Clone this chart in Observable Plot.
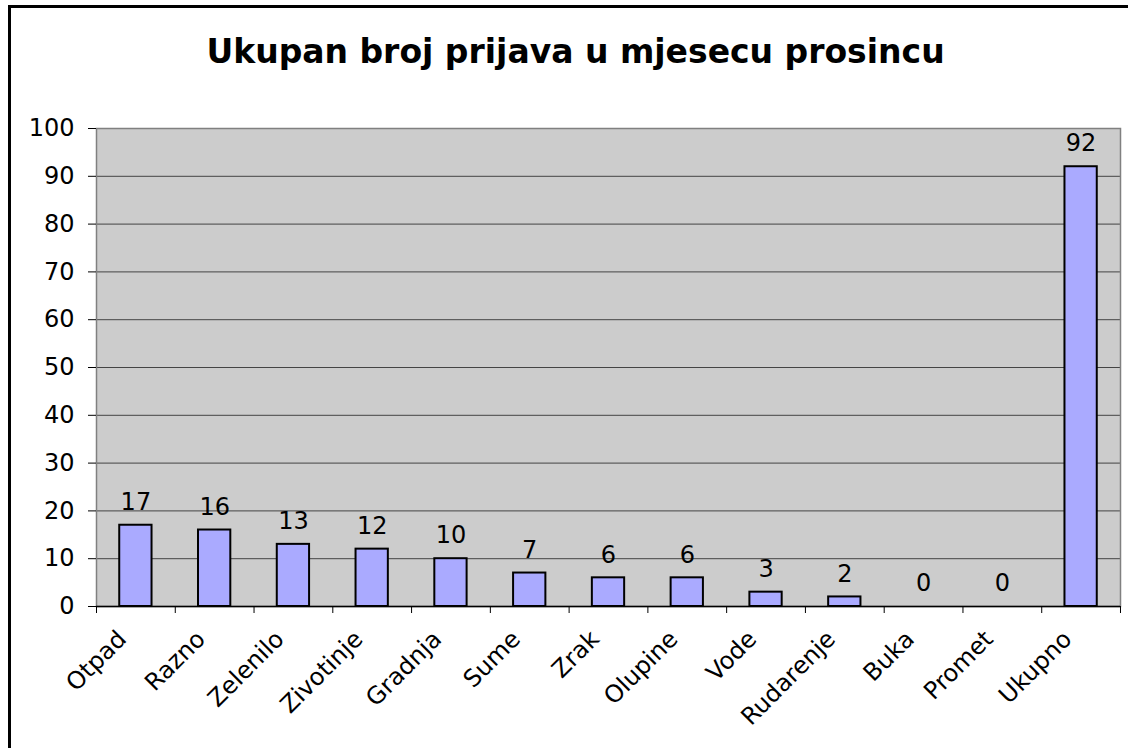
<!DOCTYPE html>
<html>
<head>
<meta charset="utf-8">
<script src="https://cdn.jsdelivr.net/npm/d3@7"></script>
<script src="https://cdn.jsdelivr.net/npm/@observablehq/plot@0.6"></script>
<style>
  html, body { margin: 0; padding: 0; background: #fff; }
  #wrap { position: relative; width: 1128px; height: 748px; overflow: hidden; }
  #border { position: absolute; left: 8px; top: 5px; width: 1200px; height: 800px; border-left: 3px solid #000; border-top: 3px solid #000; box-sizing: border-box; }
  #chart { position: absolute; left: 0; top: 0; }
</style>
</head>
<body>
<div id="wrap">
  <div id="border"></div>
  <div id="chart"></div>
</div>
<script>
const title = "Ukupan broj prijava u mjesecu prosincu";
const categories = ["Otpad","Razno","Zelenilo","Zivotinje","Gradnja","Sume","Zrak","Olupine","Vode","Rudarenje","Buka","Promet","Ukupno"];
const values = [17,16,13,12,10,7,6,6,3,2,0,0,92];
const yTicks = [0,10,20,30,40,50,60,70,80,90,100];

const data = categories.map((c, i) => ({category: c, value: values[i]}));

const W = 1128, H = 748;
const mL = 96, mR = 8, mT = 128, mB = 142;
const step = (W - mL - mR) / categories.length;

const font = "'DejaVu Sans', Verdana, sans-serif";

const chart = Plot.plot({
  width: W,
  height: H,
  marginLeft: mL,
  marginRight: mR,
  marginTop: mT,
  marginBottom: mB,
  style: {fontFamily: font, fontSize: "24px", color: "#000", background: "transparent", overflow: "visible"},
  x: {domain: categories, paddingInner: 0.59, paddingOuter: 0.295, align: 0.5, round: false, label: null, axis: null},
  y: {domain: [0, 100], ticks: yTicks, label: null},
  marks: [
    Plot.frame({fill: "#cccccc", stroke: "none"}),
    Plot.gridY(yTicks.filter(d => d > 0 && d < 100), {stroke: "#444", strokeOpacity: 1, strokeWidth: 1}),
    Plot.frame({stroke: "#808080", strokeWidth: 1.5}),
    Plot.barY(data.filter(d => d.value > 0), {x: "category", y: "value", fill: "#aaaaff", stroke: "#000", strokeWidth: 2}),
    Plot.text(data, {x: "category", y: "value", text: d => String(d.value), dy: -23, fontSize: 24, fill: "#000"}),
    Plot.axisY({ticks: yTicks, tickSize: 8, tickPadding: 14, fontSize: 24, stroke: "#000", label: null}),
    Plot.ruleY([0], {stroke: "#000", strokeWidth: 1.5}),
    // tick marks at the band edges, below the axis
    Plot.ruleX(categories, {x: d => d, y1: 0, y2: 0, insetBottom: -7, dx: -step / 2, stroke: "#000", strokeWidth: 1}),
    Plot.ruleX(categories.slice(-1), {x: d => d, y1: 0, y2: 0, insetBottom: -7, dx: step / 2, stroke: "#000", strokeWidth: 1}),
    // rotated category labels
    Plot.text(categories, {x: d => d, frameAnchor: "bottom", text: d => d, rotate: -45, textAnchor: "end", lineAnchor: "bottom", dx: -8, dy: 34, fontSize: 24, fill: "#000"}),
    Plot.text([title], {frameAnchor: "top", dx: -33, dy: -89, text: d => d, fontSize: 33, fontWeight: "bold", fill: "#000"})
  ]
});

document.getElementById("chart").appendChild(chart);
</script>
</body>
</html>
